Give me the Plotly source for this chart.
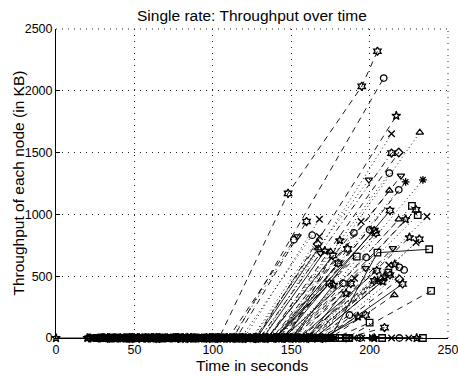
import plotly.graph_objects as go

# ---- data ----
# marker code, line-style code, idle times (throughput 0), rise times, rise values (KB)
node_symbols = ['h','o','p','x','^','h','d','o','v','v','*','*','^','o','s','h','s','x','h','^',
                'p','h','x','o','v','o','x','d','^','v','x','h','o','h','p','h','x','s','v','o',
                's','v','h','x','o','o','p','h','s','p','h','p','x','p','o','^','d','h','s','o',
                'h','p','s','h','h','h','h','h','p','^','p','o','h','p','*','o','s','^','o','x',
                'p','s','x','p']
node_styles = ['--','--','--',':',':','-.','--',':','--',':','--',':','--',':',':','--',':',':','-','--',
               '--','--',':',':',':','--',':','--','-',':','--','-','--','-.','--',':',':','-','--',':',
               '--','--','-',':','--',':','--','-','-.','--','--',':',':','--','-','--','--','-','--','--',
               '-','--','--','--','-','-','-','--','-',':','--',':','-','-',':','-','-','-','-','-',
               '-','-','-','-']
node_idle_times = [
    [22,34,45,57,68,78,87,96,104],[26,39,52,66,79,92,103,113],[31,44,58,77,96,112,128],
    [35,48,61,80,99,116,132],[28,50,73,95,118,130,140],[40,62,84,98,111,121,130],
    [33,49,66,84,102,119,135],[48,69,91,106,121,129,136],[24,40,57,82,107,124,140],
    [37,60,82,104,125],[43,60,77,98,119,133,145],[51,72,93,112,131,141,150],
    [29,46,64,86,108,124,138],[55,76,97,112,126,135,142],[38,61,85,104,122,136,148],
    [46,67,89,109,129,140,150],[30,52,74,95,116,135,152],[59,80,101,120,139,150,160],
    [34,56,79,99,120,133,145],[42,64,87,107,128,140,150],[53,75,98,118,137,147,155],
    [21,35,49,66,83,100,115],[27,45,63,79,95,108,120],[36,53,70,85,100,110,118],
    [44,60,76,94,112],[25,41,58,74,90,101,110],[39,55,72,88,105,116,125],
    [47,64,81,98,114,121,127],[32,49,67,85,103,116,128],[50,68,86,101,117,124,130],
    [23,41,60,77,94,115,135],[41,59,78,95,113,127,140],[54,73,92,108,124,132,138],
    [28,48,69,89,109,126,142],[57,78,99,117,134,148,160],[45,66,88,107,127,146,165],
    [62,84,106,125,143,153,162],[38,61,84,108,131,153,175],[49,72,95,115,136,149,160],
    [26,48,71,94,118,132,145],[35,57,80,100,121,131,140],[58,80,102,118,133,142,150],
    [43,66,90,111,132,144,155],[52,74,97,119,141,151,160],[64,87,110,129,147,157,165],
    [31,58,85,111,138,153,168],[48,76,104,124,144,153,162],[37,64,91,118,146,156,165],
    [56,82,108,128,149,157,163],[29,52,76,100,123,142,160],[44,70,96,116,135,146,155],
    [61,86,111,126,141,150,158],[33,58,83,106,129,139,148],[50,75,100,119,137,144,150],
    [40,63,87,106,126,136,145],[66,90,115,133,152,164,175],[53,78,103,127,151,161,170],
    [36,65,94,119,144,158,172],[68,93,119,138,158,172,185],[47,72,98,120,143,154,165],
    [59,83,107,128,149,160,170],[34,61,88,113,139,154,168],[70,95,121,138,156,167,178],
    [46,73,101,127,153,169,185],[27,50,74,96,117,126,135],[57,81,105,117,128,134,140],
    [39,66,93,108,124,132,140],[63,86,109,121,133,139,145],[30,47,65,86,106,119,132],
    [42,65,89,105,122,129,135],[55,77,100,115,130,139,148],[24,48,72,95,119,131,142],
    [60,86,113,129,146,153,160],[38,62,86,109,132,141,150],[51,74,97,118,138,147,155],
    [45,68,92,115,139,156,173],[58,84,110,132,154,170,187],[33,64,96,123,150,176,202],
    [64,92,120,145,170,194,219],[49,81,114,139,165,195,225],[37,70,104,140,176,203,230],
    [71,99,128,154,181,208,234],[55,86,118,154,190,202,214],[0,20,30,41,52,62,71,80]]
node_rise_times = [
    [148,195,205],[209],[217],[214],[232],[214],[218.6],[212.6],[220],[199.5],
    [223],[234],[212.6],[218.6],[227],[229.6],[230.7],[236.6],[213],[218.6],
    [223],[159.8],[168],[163.4],[154],[151.7],[168],[166.8],[167.4],[168.7],
    [194.6],[203],[200],[204],[225.4],[231.7],[229.6],[205,238],[214.8],[197.8],
    [191.8],[197.4],[204.6],[212.2],[219],[222],[216],[213],[212],[209.5],
    [203],[208.4],[190.4],[185],[183],[215.8],[219],[221],[239.2],[187.2],
    [197.4],[192.5],[200],[209.5],[176.6],[174.4],[180],[186],[171.5],[175],
    [181],[190],[188],[177],[205],[],[],[],[],[],
    [],[],[],[]]
node_rise_values = [
    [1170,2036,2320],[2103],[1798],[1652],[1663],[1496],[1501],[1334],[1312],[1280],
    [1263],[1280],[1193],[1199],[1069],[1037],[994],[983],[1031],[961],
    [961],[942],[961],[832],[821],[794],[821],[761],[726],[686],
    [942],[869],[875],[848],[815],[799],[772],[690,718],[726],[653],
    [659],[564],[545],[591],[572],[551],[597],[510],[529],[497],
    [462],[456],[483],[362],[443],[348],[475],[437],[381],[186],
    [186],[173],[124],[84],[667],[443],[605],[721],[705],[700],
    [790],[850],[440],[430],[470],[],[],[],[],[],
    [],[],[],[]]
x_ticks = [0, 50, 100, 150, 200, 250]
y_ticks = [0, 500, 1000, 1500, 2000, 2500]
x_range = [0, 250]
y_range = [0, 2500]

symbol_map = {'h': 'hexagram-open', 'o': 'circle-open', 'p': 'star-open', 'x': 'x-thin-open',
              '^': 'triangle-up-open', 'v': 'triangle-down-open', 'd': 'diamond-open',
              's': 'square-open', '*': 'asterisk-open'}
dash_map = {'-': 'solid', '--': '6px,5px', ':': '1px,3px', '-.': '6px,3px,1px,3px'}
grid_dash = '1px,5px'
grid_color = '#222222'

fig = go.Figure()
for sym, sty, idle, rt, rv in zip(node_symbols, node_styles, node_idle_times,
                                  node_rise_times, node_rise_values):
    xs = list(idle) + list(rt)
    ys = [0.0 for _ in idle] + list(rv)
    fig.add_trace(go.Scatter(
        x=xs, y=ys, mode='lines+markers', showlegend=False, cliponaxis=False,
        line=dict(color='black', width=0.9, dash=dash_map[sty]),
        marker=dict(symbol=symbol_map[sym], size=6.5, color='black',
                    line=dict(color='black', width=1.3)),
    ))

font = "Liberation Sans, Arial, Helvetica, sans-serif"
axis_common = dict(showline=True, linecolor='black', linewidth=1, ticks='inside', ticklen=4,
                   tickcolor='black', showgrid=True, gridcolor=grid_color, gridwidth=1,
                   griddash=grid_dash, zeroline=False, tickfont=dict(size=12.5, color='black'),
                   mirror=False, ticklabeloverflow='allow', automargin=False)
fig.update_xaxes(range=x_range, tickvals=x_ticks, **axis_common)
fig.update_yaxes(range=y_range, tickvals=y_ticks, **axis_common)

# dotted grid lines along the top and right edges of the plot area (as in the reference)
fig.add_shape(type='line', xref='paper', yref='paper', x0=0, x1=1, y0=1, y1=1,
              line=dict(color=grid_color, width=1, dash=grid_dash))
fig.add_shape(type='line', xref='paper', yref='paper', x0=1, x1=1, y0=0, y1=1,
              line=dict(color=grid_color, width=1, dash=grid_dash))

fig.update_layout(
    width=458, height=377,
    margin=dict(l=56, r=10, t=29, b=39, autoexpand=False),
    paper_bgcolor='white', plot_bgcolor='white',
    font=dict(family=font, color='black'),
    annotations=[
        dict(text='Single rate: Throughput over time', x=0.5, y=1, xref='paper', yref='paper',
             xanchor='center', yanchor='bottom', yshift=3, showarrow=False,
             font=dict(size=15.5)),
        dict(text='Time in seconds', x=0.5, y=0, xref='paper', yref='paper',
             xanchor='center', yanchor='top', yshift=-18, showarrow=False, borderpad=0,
             font=dict(size=15.5)),
        dict(text='Throughput of each node (in KB)', x=0, y=0.5, xref='paper', yref='paper',
             xanchor='center', yanchor='middle', xshift=-38, textangle=-90, showarrow=False,
             font=dict(size=15.5)),
    ],
)
# remove the page's default body margin / scrollbars so the figure fills the window exactly
fig.write_html("out.html", config={'displayModeBar': False},
               post_script="document.body.style.margin='0';document.body.style.overflow='hidden';")
